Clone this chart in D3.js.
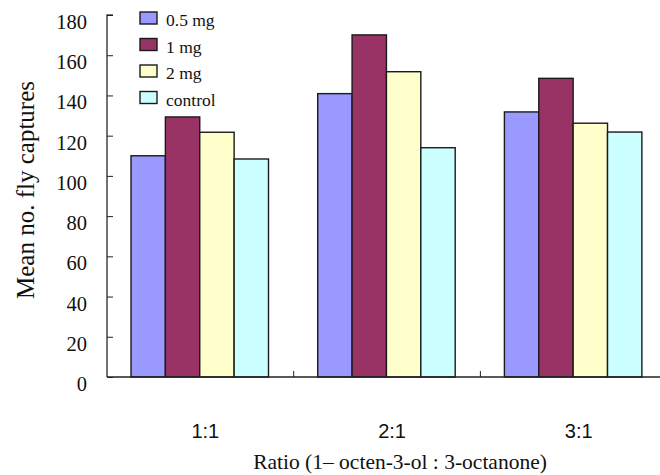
<!DOCTYPE html>
<html><head><meta charset="utf-8">
<script src="https://cdn.jsdelivr.net/npm/d3@7"></script>
<style>body{margin:0;background:#fff}svg{display:block}</style>
</head><body>
<svg id="c" width="660" height="475"></svg>
<script>
const categories = ["1:1", "2:1", "3:1"];
const seriesNames = ["0.5 mg", "1 mg", "2 mg", "control"];
const s05 = [110.0, 140.9, 131.8];
const s1 = [129.3, 170.1, 148.5];
const s2 = [121.7, 151.8, 126.2];
const sControl = [108.4, 114.0, 121.8];
const colors = ["#9999FF", "#993366", "#FFFFCC", "#CCFFFF"];
const yTicks = [0, 20, 40, 60, 80, 100, 120, 140, 160, 180];
const xTitle = "Ratio (1\u2013 octen-3-ol : 3-octanone)";
const yTitle = "Mean no. fly captures";

const series = [s05, s1, s2, sControl];
const serif = "'Liberation Serif', 'Times New Roman', serif";
const sans = "'Liberation Sans', Arial, sans-serif";
const svg = d3.select("#c");
const x0 = 107, yTop = 15, yBot = 377, bandW = 186.7;
const x = d3.scaleBand().domain(categories).range([x0, x0 + 3 * bandW]).paddingInner(0).paddingOuter(0);
const xs = d3.scaleBand().domain(seriesNames).range([24, 24 + 137.5]);
const y = d3.scaleLinear().domain([0, 180]).range([yBot, yTop]);

// bars
categories.forEach((c, ci) => {
  const g = svg.append("g");
  g.selectAll("rect").data(seriesNames).join("rect")
    .attr("x", (s) => x(c) + xs(s))
    .attr("y", (s, si) => y(series[si][ci]))
    .attr("width", xs.bandwidth())
    .attr("height", (s, si) => yBot - y(series[si][ci]))
    .attr("fill", (s, si) => colors[si])
    .attr("stroke", "#1a1a1a").attr("stroke-width", 1.4);
});

// y axis
const ya = svg.append("g").attr("transform", `translate(${x0},0)`)
  .call(d3.axisRight(y).tickValues(yTicks).tickSize(6).tickFormat(""));
ya.select(".domain").attr("stroke", "#444").attr("stroke-width", 1.5).attr("d", `M6,${yTop}H0V${yBot}`);
ya.selectAll(".tick line").attr("stroke", "#222");
svg.append("g").selectAll("text").data(yTicks).join("text")
  .attr("x", 87).attr("y", d => y(d) + 14)
  .attr("text-anchor", "end")
  .attr("font-family", serif)
  .attr("font-size", 20.5).attr("fill", "#111")
  .text(d => d);

// x axis
svg.append("line").attr("x1", x0).attr("x2", 660).attr("y1", yBot).attr("y2", yBot)
  .attr("stroke", "#222").attr("stroke-width", 1.3);
svg.append("g").selectAll("line").data(categories.slice(1)).join("line")
  .attr("x1", d => x(d)).attr("x2", d => x(d)).attr("y1", yBot).attr("y2", yBot - 6)
  .attr("stroke", "#222");
svg.append("g").selectAll("text").data(categories).join("text")
  .attr("x", d => x(d) + x.bandwidth() / 2 + 5).attr("y", 438)
  .attr("text-anchor", "middle")
  .attr("font-family", sans)
  .attr("font-size", 20).attr("fill", "#111")
  .text(d => d);

// titles
svg.append("text").attr("x", 400).attr("y", 469).attr("text-anchor", "middle")
  .attr("font-family", serif)
  .attr("font-size", 21.5).attr("fill", "#111").text(xTitle);
svg.append("text").attr("transform", "translate(34,190) rotate(-90)").attr("text-anchor", "middle")
  .attr("font-family", serif)
  .attr("font-size", 25).attr("fill", "#111").text(yTitle);

// legend
const leg = svg.append("g").selectAll("g").data(seriesNames).join("g")
  .attr("transform", (d, i) => `translate(140,${12 + i * 26.5})`);
leg.append("rect").attr("width", 17).attr("height", 12)
  .attr("fill", (d, i) => colors[i]).attr("stroke", "#1a1a1a").attr("stroke-width", 1.4);
leg.append("text").attr("x", 26).attr("y", 14)
  .attr("font-family", serif)
  .attr("font-size", 17.5).attr("fill", "#111").text(d => d);
</script>
</body></html>
